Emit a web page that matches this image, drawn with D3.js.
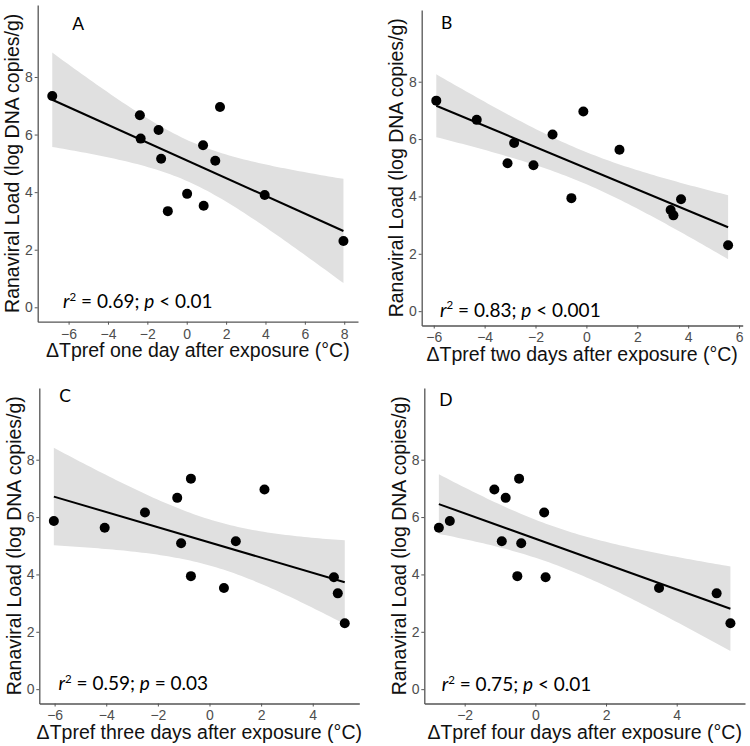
<!DOCTYPE html>
<html>
<head>
<meta charset="utf-8">
<script src="https://cdn.jsdelivr.net/npm/d3@7"></script>
<style>
  body { margin: 0; background: #fff; }
  svg { display: block; }
  .axis path, .axis line { stroke: #555; }
  .title { font-family: "Liberation Sans", Arial, sans-serif; font-size: 19.5px; fill: #111; }
  .note { font-family: Lato, "Open Sans", sans-serif; fill: #000; }
</style>
</head>
<body>
<svg width="750" height="746"></svg>
<script>
// ranaviral load (log DNA copies/g) per animal, same order in every day array
var load = [7.34, 6.67, 5.86, 6.16, 5.16, 3.34, 3.94, 5.63, 3.53, 5.09, 6.96, 3.90, 2.30];

// change in preferred temperature (°C) per animal
var day1 = [-6.83, -2.38, -2.34, -1.43, -1.30, -0.96, 0.02, 0.83, 0.86, 1.45, 1.69, 3.96, 7.96];
var day2 = [-5.90, -4.31, -2.84, -1.33, -3.10, 3.42, -0.59, 1.30, 3.31, -2.08, -0.12, 3.72, 5.57];
var day3 = [-0.72, -1.25, -6.03, -2.50, 1.02, 4.97, -0.72, -4.06, 0.56, -1.10, 2.13, 4.82, 5.24];
var day4 = [-0.46, -0.84, -2.42, 0.25, -0.95, 5.13, -0.51, -2.73, 3.50, -0.40, -1.16, 0.29, 5.52];

var panelLabels = ['A', 'B', 'C', 'D'];
var xTitles = [
  '\u0394Tpref one day after exposure (\u00B0C)',
  '\u0394Tpref two days after exposure (\u00B0C)',
  '\u0394Tpref three days after exposure (\u00B0C)',
  '\u0394Tpref four days after exposure (\u00B0C)'
];
var yTitle = 'Ranaviral Load (log DNA copies/g)';
var r2Text = ['0.69', '0.83', '0.59', '0.75'];
var pText = ['< 0.01', '< 0.001', '= 0.03', '< 0.01'];
var xTicks = [[-6, -4, -2, 0, 2, 4, 6, 8], [-6, -4, -2, 0, 2, 4, 6], [-6, -4, -2, 0, 2, 4], [-2, 0, 2, 4]];
var yTicks = [0, 2, 4, 6, 8];
var yLimits = [0, 10];

var tCrit = 2.201; // t(0.975, df = 11)

// panel geometry in page pixels
var panels = [
  {x: day1, l: 37.7, t: 5, r: 358, b: 321.7, lab: [78.3, 30], note: [63, 308.3]},
  {x: day2, l: 421.7, t: 10, r: 742.7, b: 325.5, lab: [446.7, 29.3], note: [440, 316.5]},
  {x: day3, l: 39.3, t: 388, r: 359.3, b: 703.5, lab: [65, 401.5], note: [58.5, 690]},
  {x: day4, l: 424.3, t: 388, r: 745, b: 703.5, lab: [445.8, 405.5], note: [441.7, 691]}
];

var svg = d3.select('svg');

function linFit(xs, ys) {
  var n = xs.length;
  var mx = d3.mean(xs), my = d3.mean(ys);
  var sxx = d3.sum(xs, function (v) { return (v - mx) * (v - mx); });
  var sxy = d3.sum(xs, function (v, i) { return (v - mx) * (ys[i] - my); });
  var slope = sxy / sxx;
  var icpt = my - slope * mx;
  var sse = d3.sum(xs, function (v, i) { var e = ys[i] - (icpt + slope * v); return e * e; });
  var s = Math.sqrt(sse / (n - 2));
  return {
    predict: function (v) { return icpt + slope * v; },
    half: function (v) { return tCrit * s * Math.sqrt(1 / n + (v - mx) * (v - mx) / sxx); }
  };
}

function styleTicks(sel) {
  sel.selectAll('text')
    .style('font-family', '"Liberation Sans", Arial, sans-serif')
    .style('font-size', '14px')
    .style('fill', '#4d4d4d');
}

panels.forEach(function (p, k) {
  var ext = d3.extent(p.x);
  var pad = (ext[1] - ext[0]) * 0.05;
  var ypad = (yLimits[1] - yLimits[0]) * 0.05;
  var x = d3.scaleLinear().domain([ext[0] - pad, ext[1] + pad]).range([p.l, p.r]);
  var y = d3.scaleLinear().domain([yLimits[0] - ypad, yLimits[1] + ypad]).range([p.b, p.t]);

  var g = svg.append('g');
  var fit = linFit(p.x, load);

  // confidence band
  var grid = d3.range(80).map(function (i) { return ext[0] + (ext[1] - ext[0]) * i / 79; });
  g.append('path')
    .attr('fill', '#e0e0e0')
    .attr('d', d3.area()
      .x(function (v) { return x(v); })
      .y0(function (v) { return y(fit.predict(v) - fit.half(v)); })
      .y1(function (v) { return y(fit.predict(v) + fit.half(v)); })(grid));

  // fitted line
  g.append('path')
    .attr('fill', 'none')
    .attr('stroke', '#000')
    .attr('stroke-width', 2)
    .attr('d', d3.line()
      .x(function (v) { return x(v); })
      .y(function (v) { return y(fit.predict(v)); })(ext));

  // points
  g.selectAll('circle').data(p.x)
    .enter().append('circle')
      .attr('cx', function (d) { return x(d); })
      .attr('cy', function (d, i) { return y(load[i]); })
      .attr('r', 5)
      .attr('fill', '#000');

  // axes
  g.append('g').attr('class', 'axis')
    .attr('transform', 'translate(0,' + p.b + ')')
    .call(d3.axisBottom(x).tickValues(xTicks[k]).tickSize(3).tickPadding(4).tickSizeOuter(0))
    .call(styleTicks);
  g.append('g').attr('class', 'axis')
    .attr('transform', 'translate(' + p.l + ',0)')
    .call(d3.axisLeft(y).tickValues(yTicks).tickSize(3).tickPadding(1.8).tickSizeOuter(0))
    .call(styleTicks);
  g.selectAll('.axis path').attr('stroke-width', 1.3);

  // titles
  g.append('text').attr('class', 'title')
    .attr('x', (p.l + p.r) / 2).attr('y', p.b + 35.3)
    .attr('text-anchor', 'middle')
    .text(xTitles[k]);
  g.append('text').attr('class', 'title')
    .attr('transform', 'translate(' + (p.l - 18.5) + ',' + ((p.t + p.b) / 2) + ') rotate(-90)')
    .attr('text-anchor', 'middle')
    .text(yTitle);

  // panel letter
  g.append('text').attr('class', 'note')
    .attr('x', p.lab[0]).attr('y', p.lab[1])
    .attr('text-anchor', 'middle')
    .attr('font-size', 17.5)
    .text(panelLabels[k]);

  // statistics note
  var t = g.append('text').attr('class', 'note')
    .attr('x', p.note[0]).attr('y', p.note[1])
    .attr('font-size', 19);
  t.append('tspan').attr('font-style', 'italic').text('r');
  t.append('tspan').attr('font-size', 11.5).attr('dy', -7.5).text('2');
  t.append('tspan').attr('dy', 7.5).text(' = ' + r2Text[k] + '; ');
  t.append('tspan').attr('font-style', 'italic').text('p');
  t.append('tspan').text(' ' + pText[k]);
});
</script>
</body>
</html>
